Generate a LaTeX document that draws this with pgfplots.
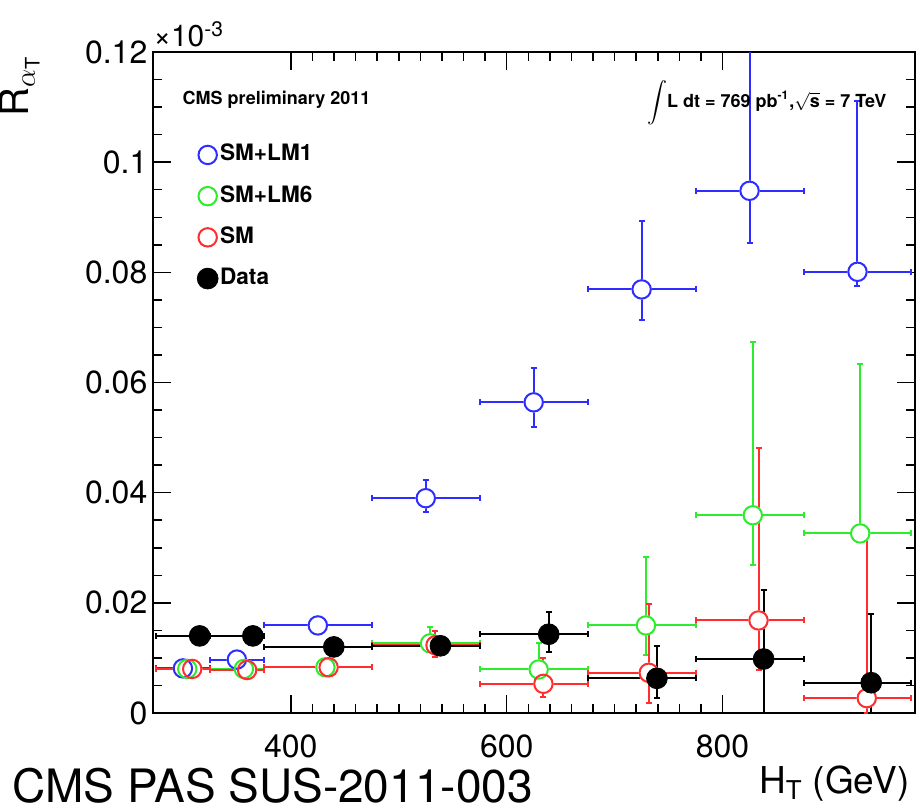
\documentclass[border=0pt]{standalone}
\usepackage{fontspec}
\setmainfont{TeX Gyre Heros}
\usepackage{pgfplots}
\usepackage{pgfplotstable}
\pgfplotsset{compat=1.18}
\definecolor{cblue}{RGB}{45,45,255}
\definecolor{cgreen}{RGB}{45,235,45}
\definecolor{cred}{RGB}{255,45,45}

% SM+LM1
\pgfplotstableread{
x y xm xp ym yp
300 0.0081 25 25 0.0003 0.0003
350 0.0097 25 25 0.0004 0.0004
425 0.0159 50 50 0.0005 0.0005
525 0.0390 50 50 0.0025 0.0033
625 0.0564 50 50 0.0045 0.0062
725 0.0769 50 50 0.0056 0.0125
825 0.0948 50 50 0.0095 0.0400
925 0.0801 50 50 0.0026 0.0310
}\lmone
% SM+LM6
\pgfplotstableread{
x y xm xp ym yp
304 0.0080 29 21 0.0003 0.0003
356.5 0.0080 31.5 18.5 0.0003 0.0003
432 0.0083 57 43 0.0003 0.0003
529 0.01265 54 46 0.0008 0.0030
629.6 0.0079 54.6 45.4 0.0022 0.0048
729 0.0159 54 46 0.0054 0.0124
828 0.0359 53 47 0.0090 0.0315
927.5 0.0326 52.5 47.5 0.0 0.0308
}\lmsix
% SM
\pgfplotstableread{
x y xm xp ym yp
308.6 0.0080 33.6 16.4 0.0003 0.0003
359.5 0.0078 34.5 15.5 0.0003 0.0003
435 0.0083 60 40 0.0003 0.0003
534 0.0123 59 41 0.0021 0.0026
634 0.0053 59 41 0.0024 0.0047
731.6 0.0073 56.6 43.4 0.0054 0.0124
833.3 0.0168 58.3 41.7 0.0090 0.0314
933.6 0.0027 58.6 41.4 0.0027 0.0305
}\sm
% Data
\pgfplotstableread{
x y xm xp ym yp
315.5 0.0140 40.5 9.5 0.0005 0.0005
364.8 0.0140 39.8 10.2 0.0005 0.0005
439.8 0.0120 64.8 35.2 0.0005 0.0005
538.6 0.0122 63.6 36.4 0.0005 0.0005
638.9 0.0143 63.9 36.1 0.0033 0.0041
739.2 0.0063 64.2 35.8 0.0035 0.0059
838 0.0098 63 37 0.0098 0.0126
937.7 0.0055 62.7 37.3 0.0055 0.0124
}\data

\pgfplotsset{
  ebars/.style={only marks, mark=*, mark size=0pt, forget plot,
    error bars/.cd, x dir=both, x explicit, y dir=both, y explicit,
    error bar style={line width=1pt},
    error mark=|,
    error mark options={line width=1pt, mark size=1.5pt}},
  whitefill/.style={only marks, mark=*, mark size=4.6pt, forget plot,
    mark options={draw=white, fill=white, line width=1pt}},
}

\begin{document}
\begin{tikzpicture}
\begin{axis}[
  at={(0,0)}, anchor=south west,
  scale only axis, width=381pt, height=330.5pt,
  xmin=272, xmax=978, ymin=0, ymax=0.12,
  xtick={400,600,800}, xticklabels={400,600,800},
  minor x tick num=9,
  ytick={0,0.02,0.04,0.06,0.08,0.1,0.12},
  yticklabels={0,0.02,0.04,0.06,0.08,0.1,0.12},
  minor y tick num=3,
  scaled y ticks=false,
  tick align=inside,
  major tick length=9pt, minor tick length=4.5pt,
  every tick/.style={black, line width=0.75pt},
  axis line style={line width=1pt},
  /pgf/number format/assume math mode=true,
  ticklabel style={font=\fontsize{16}{16}\selectfont},
  yticklabel style={inner sep=0pt, xshift=-2.5pt},
  xticklabel style={anchor=north, inner sep=0pt, yshift=-10.5pt},
  legend cell align=left,
  legend image code/.code={\draw[#1] plot coordinates {(0pt,0pt)};},
  legend style={draw=none, fill=none, at={(0.058,0.863)}, anchor=north west,
    inner sep=0pt, row sep=8.6pt, column sep=0pt,
    font=\bfseries\fontsize{11.3}{11.3}\selectfont,
    nodes={text height=8pt, text depth=2pt, inner sep=1pt}},
]
% error bars
\addplot[cblue, ebars] table[x=x,y=y,x error plus=xp,x error minus=xm,y error plus=yp,y error minus=ym]{\lmone};
\addplot[cgreen, ebars] table[x=x,y=y,x error plus=xp,x error minus=xm,y error plus=yp,y error minus=ym]{\lmsix};
\addplot[cred, ebars] table[x=x,y=y,x error plus=xp,x error minus=xm,y error plus=yp,y error minus=ym]{\sm};
\addplot[black, ebars] table[x=x,y=y,x error plus=xp,x error minus=xm,y error plus=yp,y error minus=ym]{\data};
% white interiors
\addplot[whitefill] table[x=x,y=y]{\lmone};
\addplot[whitefill] table[x=x,y=y]{\lmsix};
\addplot[whitefill] table[x=x,y=y]{\sm};
% markers
\addplot[only marks, mark=o, mark size=4.6pt, mark options={draw=cblue, line width=1pt}] table[x=x,y=y]{\lmone};
\addlegendentry{SM+LM1}
\addplot[only marks, mark=o, mark size=4.6pt, mark options={draw=cgreen, line width=1pt}] table[x=x,y=y]{\lmsix};
\addlegendentry{SM+LM6}
\addplot[only marks, mark=o, mark size=4.6pt, mark options={draw=cred, line width=1pt}] table[x=x,y=y]{\sm};
\addlegendentry{SM}
\addplot[only marks, mark=*, mark size=5.2pt, mark options={draw=black, fill=black}] table[x=x,y=y]{\data};
\addlegendentry{Data}
\end{axis}
% texts
\node[anchor=base west, inner sep=0pt] at (0.2pt,333.15pt) {\fontsize{15}{15}\selectfont ×10\textsuperscript{-3}};
\node[rotate=90, anchor=base west, inner sep=0pt] at (-62pt,298pt) {\fontsize{20}{20}\selectfont R$_{\alpha_{\mathrm{T}}}$};
\node[anchor=west, inner sep=0pt] at (14.8pt,306.5pt) {\bfseries\fontsize{9}{9}\selectfont CMS preliminary 2011};
\node[anchor=center, inner sep=0pt] at (307pt,305pt) {\bfseries\fontsize{9}{9}\selectfont $\displaystyle\int$L dt = 769 pb\textsuperscript{-1},$\sqrt{\mbox{\bfseries s}}$ = 7 TeV};
\node[anchor=base east, inner sep=0pt] at (378.6pt,-40pt) {\fontsize{18.5}{18.5}\selectfont H$_{\mathrm{T}}$ (GeV)};
\node[anchor=base west, inner sep=0pt] at (-70.35pt,-44.5pt) {\fontsize{23}{23}\selectfont CMS PAS SUS-2011-003};
\pgfresetboundingbox
\useasboundingbox (-76.35pt,-49pt) rectangle (381.65pt,356.5pt);
\end{tikzpicture}
\end{document}
